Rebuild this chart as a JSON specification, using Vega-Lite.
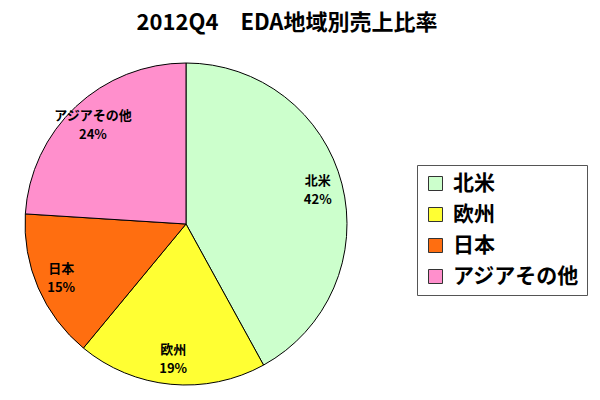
{
  "$schema": "https://vega.github.io/schema/vega-lite/v6.json",
  "autosize": {"type": "none"},
  "width": 372,
  "height": 322,
  "padding": {"left": 0, "top": 63, "right": 228, "bottom": 15},
  "background": "white",
  "title": {
    "text": "2012Q4\u3000EDA地域別売上比率",
    "font": "Noto Sans CJK JP",
    "fontSize": 22,
    "fontWeight": "bold",
    "color": "black",
    "anchor": "middle",
    "frame": "group",
    "dx": 101,
    "offset": 26
  },
  "data": {
    "values": [
      {"region": "北米", "share": 0.42, "n": 1},
      {"region": "欧州", "share": 0.19, "n": 2},
      {"region": "日本", "share": 0.15, "n": 3},
      {"region": "アジアその他", "share": 0.24, "n": 4}
    ]
  },
  "encoding": {
    "theta": {"field": "share", "type": "quantitative", "stack": true},
    "order": {"field": "n", "type": "ordinal"}
  },
  "layer": [
    {
      "mark": {"type": "arc", "outerRadius": 161, "stroke": "black", "strokeWidth": 1},
      "encoding": {
        "color": {
          "field": "region",
          "type": "nominal",
          "scale": {
            "domain": ["北米", "欧州", "日本", "アジアその他"],
            "range": ["#CCFFCC", "#FFFF33", "#FF6E10", "#FF8FCC"]
          },
          "legend": {
            "title": null,
            "orient": "none",
            "legendX": 417,
            "legendY": 102,
            "symbolType": "square",
            "symbolSize": 196,
            "symbolStrokeColor": "#333333",
            "symbolStrokeWidth": 1,
            "labelFont": "Noto Sans CJK JP",
            "labelFontSize": 21,
            "labelFontWeight": "bold",
            "labelColor": "black",
            "rowPadding": 9,
            "padding": 8,
            "strokeColor": "#555555",
            "fillColor": "white",
            "labelOffset": 7,
            "labelLimit": 300
          }
        }
      }
    },
    {
      "mark": {"type": "text", "radius": 136, "dy": -9, "font": "Noto Sans CJK JP", "fontSize": 13, "fontWeight": "bold"},
      "encoding": {
        "detail": {"field": "region", "type": "nominal"},
        "text": {"field": "region", "type": "nominal"},
        "color": {"value": "black"}
      }
    },
    {
      "mark": {"type": "text", "radius": 136, "dy": 10, "font": "Noto Sans CJK JP", "fontSize": 13, "fontWeight": "bold"},
      "encoding": {
        "detail": {"field": "region", "type": "nominal"},
        "text": {"field": "share", "type": "quantitative", "format": ".0%"},
        "color": {"value": "black"}
      }
    }
  ],
  "config": {"view": {"stroke": null}}
}
